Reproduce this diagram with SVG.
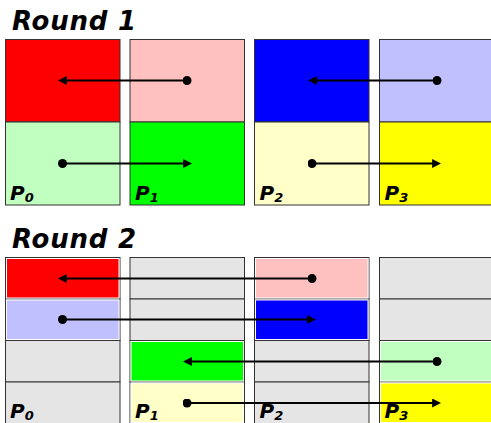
<svg xmlns="http://www.w3.org/2000/svg" width="491" height="423" viewBox="0 0 491 423">
  <style>
    .title { font-family: "DejaVu Sans", sans-serif; font-weight: bold; font-style: italic; font-size: 26px; letter-spacing: 0.8px; fill: #000; }
    .plabel { font-family: "DejaVu Sans", sans-serif; font-weight: bold; font-style: italic; font-size: 20px; fill: #000; }
    .sub { font-size: 13px; }
    .cell { stroke: #333; stroke-width: 1; }
    .blk { stroke: #fff; stroke-width: 1; }
    .empty { fill: #e5e5e5; }
    .link { stroke: #000; stroke-width: 2; fill: none; marker-end: url(#head); marker-start: url(#dot); }
  </style>
  <defs>
    <marker id="head" viewBox="0 0 10 10" refX="1" refY="5" markerWidth="9" markerHeight="9" markerUnits="userSpaceOnUse" orient="auto">
      <path d="M0,0 L10,5 L0,10 z" fill="#000"/>
    </marker>
    <marker id="dot" viewBox="0 0 10 10" refX="5" refY="5" markerWidth="9" markerHeight="9" markerUnits="userSpaceOnUse">
      <circle cx="5" cy="5" r="5" fill="#000"/>
    </marker>
  </defs>

  <rect width="491" height="423" fill="#fff"/>

  <!-- Round 1: two blocks per process -->
  <text class="title" x="12" y="30">Round 1</text>

  <g id="r1-p0">
    <rect class="cell" x="5.5" y="39.5" width="114.5" height="82.5" fill="#ff0000"/>
    <rect class="cell" x="5.5" y="122" width="114.5" height="83" fill="#c0ffc0"/>
    <text class="plabel" x="10" y="200">P<tspan class="sub" dy="2">0</tspan></text>
  </g>
  <g id="r1-p1">
    <rect class="cell" x="130" y="39.5" width="114.5" height="82.5" fill="#ffc0c0"/>
    <rect class="cell" x="130" y="122" width="114.5" height="83" fill="#00ff00"/>
    <text class="plabel" x="135" y="200">P<tspan class="sub" dy="2">1</tspan></text>
  </g>
  <g id="r1-p2">
    <rect class="cell" x="254.5" y="39.5" width="114.5" height="82.5" fill="#0000ff"/>
    <rect class="cell" x="254.5" y="122" width="114.5" height="83" fill="#ffffc8"/>
    <text class="plabel" x="259.5" y="200">P<tspan class="sub" dy="2">2</tspan></text>
  </g>
  <g id="r1-p3">
    <rect class="cell" x="379.5" y="39.5" width="114.5" height="82.5" fill="#c0c0ff"/>
    <rect class="cell" x="379.5" y="122" width="114.5" height="83" fill="#ffff00"/>
    <text class="plabel" x="384.5" y="200">P<tspan class="sub" dy="2">3</tspan></text>
  </g>

  <!-- Round 2: four blocks per process -->
  <text class="title" x="12" y="248">Round 2</text>

  <g id="r2-p0">
    <rect class="cell empty" x="5.5" y="257.5" width="114.5" height="41.5"/>
    <rect class="cell empty" x="5.5" y="299" width="114.5" height="41.5"/>
    <rect class="cell empty" x="5.5" y="340.5" width="114.5" height="41.5"/>
    <rect class="cell empty" x="5.5" y="382" width="114.5" height="41.5"/>
    <rect class="blk" x="6.5" y="258.5" width="112.5" height="39.5" fill="#ff0000"/>
    <rect class="blk" x="6.5" y="300" width="112.5" height="39.5" fill="#c0c0ff"/>
    <text class="plabel" x="10" y="418">P<tspan class="sub" dy="2">0</tspan></text>
  </g>
  <g id="r2-p1">
    <rect class="cell empty" x="130" y="257.5" width="114.5" height="41.5"/>
    <rect class="cell empty" x="130" y="299" width="114.5" height="41.5"/>
    <rect class="cell empty" x="130" y="340.5" width="114.5" height="41.5"/>
    <rect class="cell empty" x="130" y="382" width="114.5" height="41.5"/>
    <rect class="blk" x="131" y="341.5" width="112.5" height="39.5" fill="#00ff00"/>
    <rect class="blk" x="131" y="383" width="112.5" height="39.5" fill="#ffffc8"/>
    <text class="plabel" x="135" y="418">P<tspan class="sub" dy="2">1</tspan></text>
  </g>
  <g id="r2-p2">
    <rect class="cell empty" x="254.5" y="257.5" width="114.5" height="41.5"/>
    <rect class="cell empty" x="254.5" y="299" width="114.5" height="41.5"/>
    <rect class="cell empty" x="254.5" y="340.5" width="114.5" height="41.5"/>
    <rect class="cell empty" x="254.5" y="382" width="114.5" height="41.5"/>
    <rect class="blk" x="255.5" y="258.5" width="112.5" height="39.5" fill="#ffc0c0"/>
    <rect class="blk" x="255.5" y="300" width="112.5" height="39.5" fill="#0000ff"/>
    <text class="plabel" x="259.5" y="418">P<tspan class="sub" dy="2">2</tspan></text>
  </g>
  <g id="r2-p3">
    <rect class="cell empty" x="379.5" y="257.5" width="114.5" height="41.5"/>
    <rect class="cell empty" x="379.5" y="299" width="114.5" height="41.5"/>
    <rect class="cell empty" x="379.5" y="340.5" width="114.5" height="41.5"/>
    <rect class="cell empty" x="379.5" y="382" width="114.5" height="41.5"/>
    <rect class="blk" x="380.5" y="341.5" width="112.5" height="39.5" fill="#c0ffc0"/>
    <rect class="blk" x="380.5" y="383" width="112.5" height="39.5" fill="#ffff00"/>
    <text class="plabel" x="384.5" y="418">P<tspan class="sub" dy="2">3</tspan></text>
  </g>

  <!-- exchanges -->
  <g id="connectors">
    <line class="link" x1="187" y1="80.5" x2="66" y2="80.5"/>
    <line class="link" x1="62.5" y1="163.5" x2="184" y2="163.5"/>
    <line class="link" x1="437" y1="80.5" x2="316" y2="80.5"/>
    <line class="link" x1="312" y1="163.5" x2="433" y2="163.5"/>
    <line class="link" x1="312" y1="278.5" x2="66" y2="278.5"/>
    <line class="link" x1="62.5" y1="319.5" x2="308" y2="319.5"/>
    <line class="link" x1="437" y1="361.5" x2="191" y2="361.5"/>
    <line class="link" x1="187" y1="403" x2="433" y2="403"/>
  </g>
</svg>
